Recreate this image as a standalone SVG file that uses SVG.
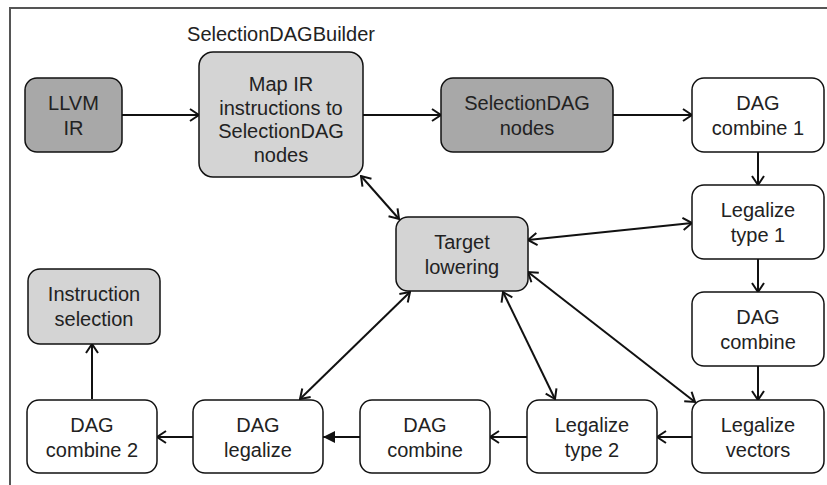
<svg xmlns="http://www.w3.org/2000/svg" width="827" height="485" viewBox="0 0 827 485">
<style>
.n rect{stroke:#111;stroke-width:1.5}
.w{fill:#fff}.d{fill:#a8a8a8}.l{fill:#d4d4d4}
text{font-family:"Liberation Sans",Arial,sans-serif;font-size:20px;fill:#222;text-anchor:middle}
.e line{stroke:#111;stroke-width:2}
</style>
<defs>
<marker id="a" viewBox="0 0 12 14" refX="11" refY="7" markerWidth="12" markerHeight="14" markerUnits="userSpaceOnUse" orient="auto-start-reverse">
<path d="M2,1 L11,7 L2,13" fill="none" stroke="#111" stroke-width="2"/>
</marker>
<marker id="t" viewBox="0 0 12 12" refX="12" refY="6" markerWidth="12" markerHeight="12" markerUnits="userSpaceOnUse" orient="auto">
<path d="M0,0 L12,6 L0,12 Z" fill="#111"/>
</marker>
</defs>
<rect width="827" height="485" fill="#fff"/>
<path d="M10,485 V8 H827" fill="none" stroke="#555" stroke-width="2"/>
<text x="281" y="41">SelectionDAGBuilder</text>
<g class="e">
<line x1="122" y1="115" x2="199" y2="115" marker-end="url(#a)"/>
<line x1="363" y1="115" x2="441" y2="115" marker-end="url(#a)"/>
<line x1="613" y1="115" x2="692" y2="115" marker-end="url(#a)"/>
<line x1="758" y1="152" x2="758" y2="185" marker-end="url(#a)"/>
<line x1="758" y1="259" x2="758" y2="292" marker-end="url(#a)"/>
<line x1="758" y1="366" x2="758" y2="400" marker-end="url(#a)"/>
<line x1="692" y1="437" x2="657" y2="437" marker-end="url(#a)"/>
<line x1="527" y1="437" x2="490" y2="437" marker-end="url(#a)"/>
<line x1="360" y1="437" x2="323" y2="437" marker-end="url(#t)"/>
<line x1="193" y1="437" x2="157" y2="437" marker-end="url(#a)"/>
<line x1="92" y1="399" x2="92" y2="344" marker-end="url(#a)"/>
<line x1="361" y1="176" x2="399" y2="219" marker-start="url(#a)" marker-end="url(#a)"/>
<line x1="528" y1="240" x2="692" y2="223" marker-start="url(#a)" marker-end="url(#a)"/>
<line x1="528" y1="272" x2="695" y2="402" marker-start="url(#a)" marker-end="url(#a)"/>
<line x1="503" y1="292" x2="555" y2="399" marker-start="url(#a)" marker-end="url(#a)"/>
<line x1="410" y1="292" x2="300" y2="399" marker-start="url(#a)" marker-end="url(#a)"/>
</g>
<g id="llvm-ir" class="n"><rect class="d" x="25" y="78" width="97" height="74" rx="12"/><text x="73.5" y="110">LLVM</text><text x="73.5" y="135">IR</text></g>
<g id="map-ir" class="n"><rect class="l" x="199" y="52" width="164" height="125" rx="14"/><text x="281" y="91">Map IR</text><text x="281" y="114.5">instructions to</text><text x="281" y="138">SelectionDAG</text><text x="281" y="161.5">nodes</text></g>
<g id="sdag-nodes" class="n"><rect class="d" x="441" y="78" width="172" height="74" rx="12"/><text x="527" y="110">SelectionDAG</text><text x="527" y="135">nodes</text></g>
<g id="dag-combine-1" class="n"><rect class="w" x="692" y="78" width="132" height="74" rx="12"/><text x="758" y="110">DAG</text><text x="758" y="135">combine 1</text></g>
<g id="legalize-type-1" class="n"><rect class="w" x="692" y="185" width="132" height="74" rx="12"/><text x="758" y="217">Legalize</text><text x="758" y="242">type 1</text></g>
<g id="dag-combine" class="n"><rect class="w" x="692" y="292" width="132" height="74" rx="12"/><text x="758" y="324">DAG</text><text x="758" y="349">combine</text></g>
<g id="legalize-vectors" class="n"><rect class="w" x="692" y="400" width="132" height="73" rx="12"/><text x="758" y="432">Legalize</text><text x="758" y="457">vectors</text></g>
<g id="legalize-type-2" class="n"><rect class="w" x="527" y="400" width="130" height="73" rx="12"/><text x="592" y="432">Legalize</text><text x="592" y="457">type 2</text></g>
<g id="dag-combine-b" class="n"><rect class="w" x="360" y="400" width="130" height="73" rx="12"/><text x="425" y="432">DAG</text><text x="425" y="457">combine</text></g>
<g id="dag-legalize" class="n"><rect class="w" x="193" y="400" width="130" height="73" rx="12"/><text x="258" y="432">DAG</text><text x="258" y="457">legalize</text></g>
<g id="dag-combine-2" class="n"><rect class="w" x="27" y="400" width="130" height="73" rx="12"/><text x="92" y="432">DAG</text><text x="92" y="457">combine 2</text></g>
<g id="instruction-selection" class="n"><rect class="l" x="28" y="269" width="132" height="75" rx="12"/><text x="94" y="301">Instruction</text><text x="94" y="326">selection</text></g>
<g id="target-lowering" class="n"><rect class="l" x="396" y="217" width="132" height="74" rx="12"/><text x="462" y="249">Target</text><text x="462" y="274">lowering</text></g>
</svg>
